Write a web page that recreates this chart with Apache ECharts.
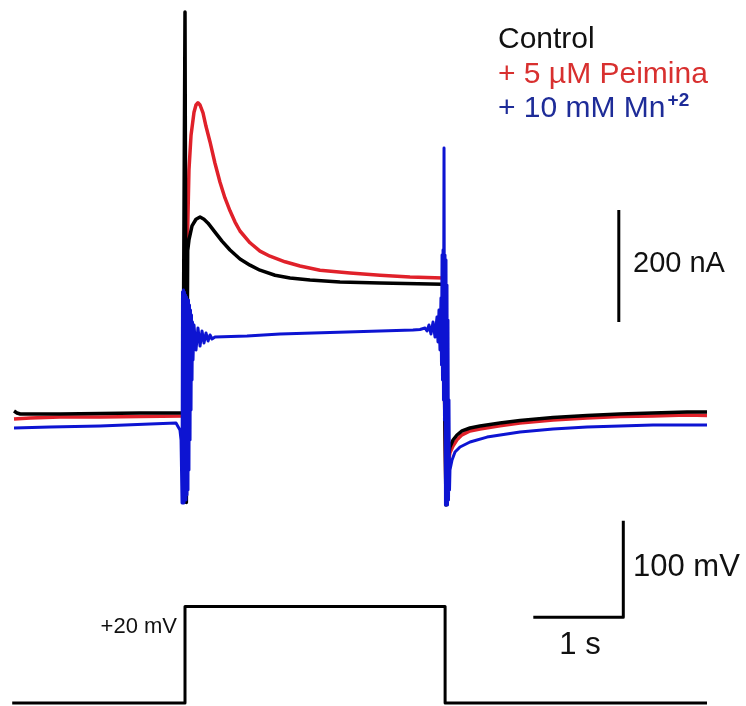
<!DOCTYPE html>
<html>
<head>
<meta charset="utf-8">
<script src="https://cdn.jsdelivr.net/npm/echarts@6/dist/echarts.min.js"></script>
<style>
html, body { margin: 0; padding: 0; background: #fff; }
#main { width: 746px; height: 706px; }
</style>
</head>
<body>
<div id="main"></div>
<script>
// time in s, current in nA
var controlTrace = [
	[0, 3.6], [0.033, 0], [0.07, -1.8], [0.51, -1.8], [0.96, -0.9], [1.4, 0], [1.878, 0],
	[1.9, 716], [1.915, -160], [1.93, 290], [1.944, 309], [1.978, 334], [2.022, 346],
	[2.067, 350], [2.111, 346], [2.156, 339], [2.233, 323], [2.311, 307], [2.4, 291],
	[2.511, 275], [2.622, 264], [2.733, 255], [2.9, 246], [3.067, 241], [3.289, 237.5],
	[3.622, 234], [4.067, 232], [4.767, 230],
	[4.8, -164.3], [4.811, -119.6], [4.822, -80.4], [4.844, -60.7], [4.878, -48.2],
	[4.922, -39.3], [4.978, -32.1], [5.067, -26.8], [5.178, -23.2], [5.4, -17.9],
	[5.622, -13.4], [5.989, -8], [6.367, -4.5], [6.733, -1.8], [7.1, 0], [7.478, 1.8], [7.7, 1.8]
];
var peiminaTrace = [
	[0, -10.7], [0.18, -8.9], [0.51, -7.1], [0.96, -7.1], [1.4, -6.3], [1.878, -5.4], [1.9, -3.6],
	[1.922, 273], [1.944, 434], [1.967, 496], [2.0, 537], [2.022, 550], [2.044, 554],
	[2.067, 550], [2.1, 536], [2.133, 512], [2.178, 484], [2.233, 446], [2.289, 412],
	[2.344, 384], [2.4, 361], [2.456, 341], [2.511, 325], [2.622, 304], [2.733, 289],
	[2.844, 280], [3.011, 270], [3.178, 262.5], [3.4, 255], [3.733, 250], [4.067, 246],
	[4.4, 243], [4.767, 241],
	[4.8, -155], [4.822, -93], [4.844, -71], [4.878, -59], [4.922, -48], [4.978, -39],
	[5.067, -32], [5.178, -28.6], [5.4, -23], [5.622, -18], [5.989, -12.5], [6.367, -9],
	[6.733, -6.3], [7.1, -5.4], [7.478, -3.6], [7.7, -4.5]
];
var manganeseTrace = [
	[0, -26.8], [0.4, -25], [0.956, -23.2], [1.511, -19.6], [1.8, -17.9], [1.822, -21.4],
	[1.844, -30.4], [1.856, -48.2],
	[1.867, -160.7], [1.872, 216], [1.878, -160.7], [1.883, 219.6], [1.889, -160.7],
	[1.894, 216], [1.9, -155.4], [1.906, 210.7], [1.911, -155.4], [1.917, 207],
	[1.922, -146.4], [1.928, 201.8], [1.933, -137.5], [1.939, 201.8], [1.944, -101.8],
	[1.95, 192.9], [1.956, -48.2], [1.961, 183.9], [1.967, 5.4], [1.972, 175],
	[1.978, 58.9], [1.983, 162.5], [1.989, 94.6], [2.0, 157.1], [2.022, 112.5],
	[2.044, 151.8], [2.067, 119.6], [2.089, 146.4], [2.111, 125], [2.133, 142.9],
	[2.156, 128.6], [2.178, 139.3], [2.2, 132.1], [2.233, 135.7],
	[2.589, 137.5], [2.956, 141.1], [3.322, 142.9], [3.7, 144.6], [4.067, 146.4],
	[4.433, 148.2], [4.511, 149.1], [4.567, 151.8], [4.589, 146.4], [4.611, 157.1],
	[4.633, 141.1], [4.656, 162.5], [4.678, 135.7], [4.7, 171.4], [4.711, 126.8],
	[4.722, 183.9], [4.733, 112.5], [4.744, 205.4], [4.75, 85.7], [4.756, 282.1],
	[4.761, 58.9], [4.767, 291], [4.772, 23.2], [4.778, 473.2], [4.783, -12.5],
	[4.789, 282.1], [4.794, -164.3], [4.8, 273.2], [4.806, -164.3], [4.811, 228.6],
	[4.817, -164.3], [4.822, 166.1], [4.828, -155.4], [4.833, 23.2], [4.839, -137.5],
	[4.844, -101.8], [4.867, -83.9], [4.9, -69.6], [4.956, -60.7], [5.067, -51.8],
	[5.256, -43], [5.622, -34], [5.989, -28.6], [6.367, -25], [6.733, -23], [7.1, -21.4], [7.7, -21.4]
];
// time in s, voltage in mV
var voltageProtocol = [
	[-0.02, -80], [1.9, -80], [1.9, 20], [4.79, 20], [4.79, -80], [7.7, -80]
];
var currentScaleBar = [[6.72, 162.5], [6.72, 362.5]];
var voltageScaleBar = [[5.77, 9], [6.77, 9], [6.77, 109]];

var legendLabels = ['Control', '+ 5 µM Peimina', '+ 10 mM Mn'];
var traceColors = ['#000000', '#e0212a', '#0d14d2'];
var legendColors = ['#111111', '#d8302f', '#1e2c98'];

var chart = echarts.init(document.getElementById('main'));

var fontFamily = '"Liberation Sans", Arial, sans-serif';

function trace(data, color, width, grid) {
	return {
		type : 'line',
		data : data,
		xAxisIndex : grid,
		yAxisIndex : grid,
		symbol : 'none',
		silent : true,
		lineStyle : {
			color : color,
			width : width,
			join : 'round'
		}
	};
}

function label(x, y, text, size, color, align, rich) {
	return {
		type : 'text',
		x : x,
		y : y,
		silent : true,
		style : {
			text : text,
			fill : color,
			fontSize : size,
			fontFamily : fontFamily,
			align : align || 'left',
			verticalAlign : 'middle',
			rich : rich
		}
	};
}

var option = {
	backgroundColor : '#ffffff',
	animation : false,
	grid : [ {
		left : 0,
		width : 746,
		top : 0,
		height : 525
	}, {
		left : 0,
		width : 746,
		top : 500,
		height : 206
	} ],
	xAxis : [ {
		type : 'value',
		gridIndex : 0,
		min : -0.1556,
		max : 8.1333,
		show : false
	}, {
		type : 'value',
		gridIndex : 1,
		min : -0.1556,
		max : 8.1333,
		show : false
	} ],
	yAxis : [ {
		type : 'value',
		gridIndex : 0,
		min : -200,
		max : 737.5,
		show : false
	}, {
		type : 'value',
		gridIndex : 1,
		min : -83.1,
		max : 130.4,
		show : false
	} ],
	series : [
		trace(peiminaTrace, traceColors[1], 3.5, 0),
		trace(controlTrace, traceColors[0], 3.5, 0),
		trace(manganeseTrace, traceColors[2], 3, 0),
		trace(currentScaleBar, '#000', 3, 0),
		trace(voltageProtocol, '#000', 3, 1),
		trace(voltageScaleBar, '#000', 3, 1)
	],
	graphic : [
		label(498, 40, legendLabels[0], 30, legendColors[0]),
		label(498, 75, legendLabels[1], 30, legendColors[1]),
		label(498, 109, legendLabels[2] + '{sup|+2}', 30, legendColors[2], 'left', {
			sup : {
				fontSize : 19,
				fontWeight : 'bold',
				fill : legendColors[2],
				fontFamily : fontFamily,
				padding : [ 0, 0, 16, 2 ]
			}
		}),
		label(633, 264, '200 nA', 29, '#111'),
		label(633, 567, '100 mV', 31, '#111'),
		label(580, 645, '1 s', 31, '#111', 'center'),
		label(177, 627, '+20 mV', 22, '#111', 'right')
	]
};
chart.setOption(option);
</script>
</body>
</html>
